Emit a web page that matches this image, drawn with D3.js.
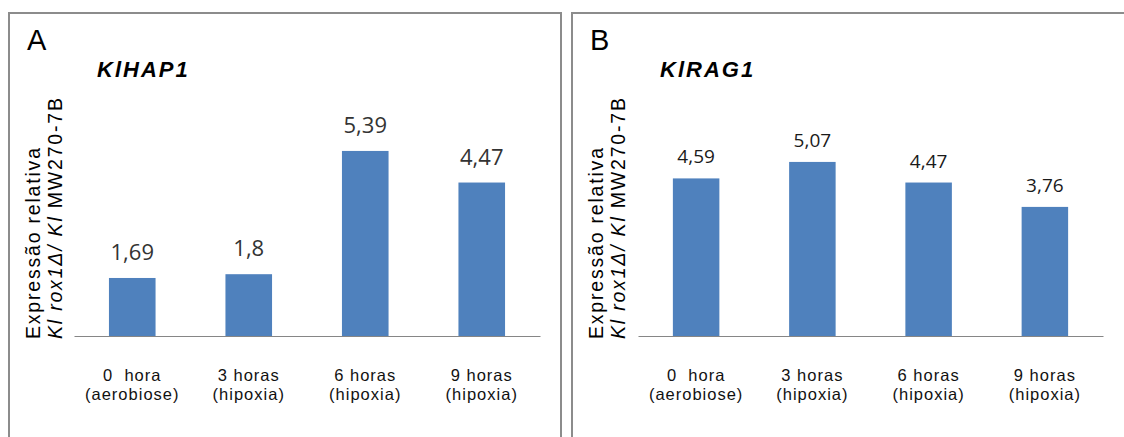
<!DOCTYPE html>
<html lang="pt">
<head>
  <meta charset="UTF-8" />
  <title>Expressão relativa KlHAP1 / KlRAG1</title>
  <script src="https://d3js.org/d3.v7.min.js"></script>
  <style>
    body { margin: 0; padding: 0; background: #fff; }
    svg { display: block; }
    .cat text { font-family: "Liberation Sans", Arial, sans-serif; font-size: 16.5px; fill: #111; white-space: pre; letter-spacing: 1px; }
    .ylab { font-family: "Liberation Sans", Arial, sans-serif; font-size: 19.5px; fill: #000; letter-spacing: 1.8px; }
  </style>
</head>
<body>
<svg id="chart" width="1124" height="437"></svg>

<script>
// données
const catLine1 = ["0  hora", "3 horas", "6 horas", "9 horas"];
const catLine2 = ["(aerobiose)", "(hipoxia)", "(hipoxia)", "(hipoxia)"];
const hap1Values = [1.69, 1.8, 5.39, 4.47];
const rag1Values = [4.59, 5.07, 4.47, 3.76];
const panelLetters = ["A", "B"];
const geneNames = ["KlHAP1", "KlRAG1"];
const yMax = 6;

const svg = d3.select("#chart");

const panels = [
  { left: 9,   width: 552, axisX0: 74,  axisX1: 540,  values: hap1Values, labelSize: 22, labelGap: 18, labelColor: "#333" },
  { left: 572, width: 560, axisX0: 638, axisX1: 1103, values: rag1Values, labelSize: 19, labelGap: 15, labelColor: "#1a1a1a" }
];

const y = d3.scaleLinear().domain([0, yMax]).range([336, 130]);
const fmt = v => String(v).replace(".", ",");

panels.forEach((p, i) => {
  const g = svg.append("g");

  // cadre
  g.append("rect")
    .attr("x", p.left).attr("y", 13)
    .attr("width", p.width).attr("height", 440)
    .attr("fill", "none").attr("stroke", "#8c8c8c").attr("stroke-width", 2);

  g.append("text")
    .attr("x", p.left + 18).attr("y", 50)
    .attr("font-family", "Liberation Sans, Arial, sans-serif")
    .attr("font-size", 29)
    .text(panelLetters[i]);

  g.append("text")
    .attr("x", p.left + 88).attr("y", 77)
    .attr("font-family", "Liberation Sans, Arial, sans-serif")
    .attr("font-size", 22).attr("font-weight", "bold").attr("font-style", "italic")
    .attr("letter-spacing", 2)
    .text(geneNames[i]);

  // titre axe y (2 lignes)
  const yl = g.append("text").attr("class", "ylab")
    .attr("transform", `translate(${p.left + 31},339) rotate(-90)`);
  yl.append("tspan").attr("x", 0).attr("y", 0).text("Expressão relativa");
  const l2 = yl.append("tspan").attr("x", 0).attr("y", 22);
  l2.append("tspan").attr("font-style", "italic").text("Kl rox1Δ/ Kl ");
  l2.append("tspan").text("MW270-7B");

  const x = d3.scaleBand()
    .domain(d3.range(catLine1.length))
    .range([p.axisX0, p.axisX1])
    .paddingInner(0.6).paddingOuter(0.3);

  g.selectAll("rect.bar")
    .data(p.values)
    .join("rect").attr("class", "bar")
    .attr("x", (d, j) => x(j))
    .attr("width", x.bandwidth())
    .attr("y", d => y(d))
    .attr("height", d => y(0) - y(d))
    .attr("fill", "#4f81bd");

  g.selectAll("text.val")
    .data(p.values)
    .join("text").attr("class", "val")
    .attr("x", (d, j) => x(j) + x.bandwidth() / 2)
    .attr("y", d => y(d) - p.labelGap)
    .attr("text-anchor", "middle")
    .attr("font-family", "Open Sans, sans-serif")
    .attr("font-size", p.labelSize)
    .attr("fill", p.labelColor)
    .text(d => fmt(d));

  const axis = g.append("g").attr("class", "cat")
    .attr("transform", `translate(0,${y(0)})`)
    .call(d3.axisBottom(x).tickSize(0).tickSizeOuter(0).tickFormat(""));
  axis.select(".domain").attr("stroke", "#868686").attr("stroke-width", 1.2);

  axis.selectAll(".tick text").remove();
  axis.selectAll(".tick").append("text")
    .attr("text-anchor", "middle")
    .each(function(d) {
      const t = d3.select(this);
      t.append("tspan").attr("x", 0).attr("y", 45).text(catLine1[d]);
      t.append("tspan").attr("x", 0).attr("y", 64).text(catLine2[d]);
    });
});
</script>
</body>
</html>
